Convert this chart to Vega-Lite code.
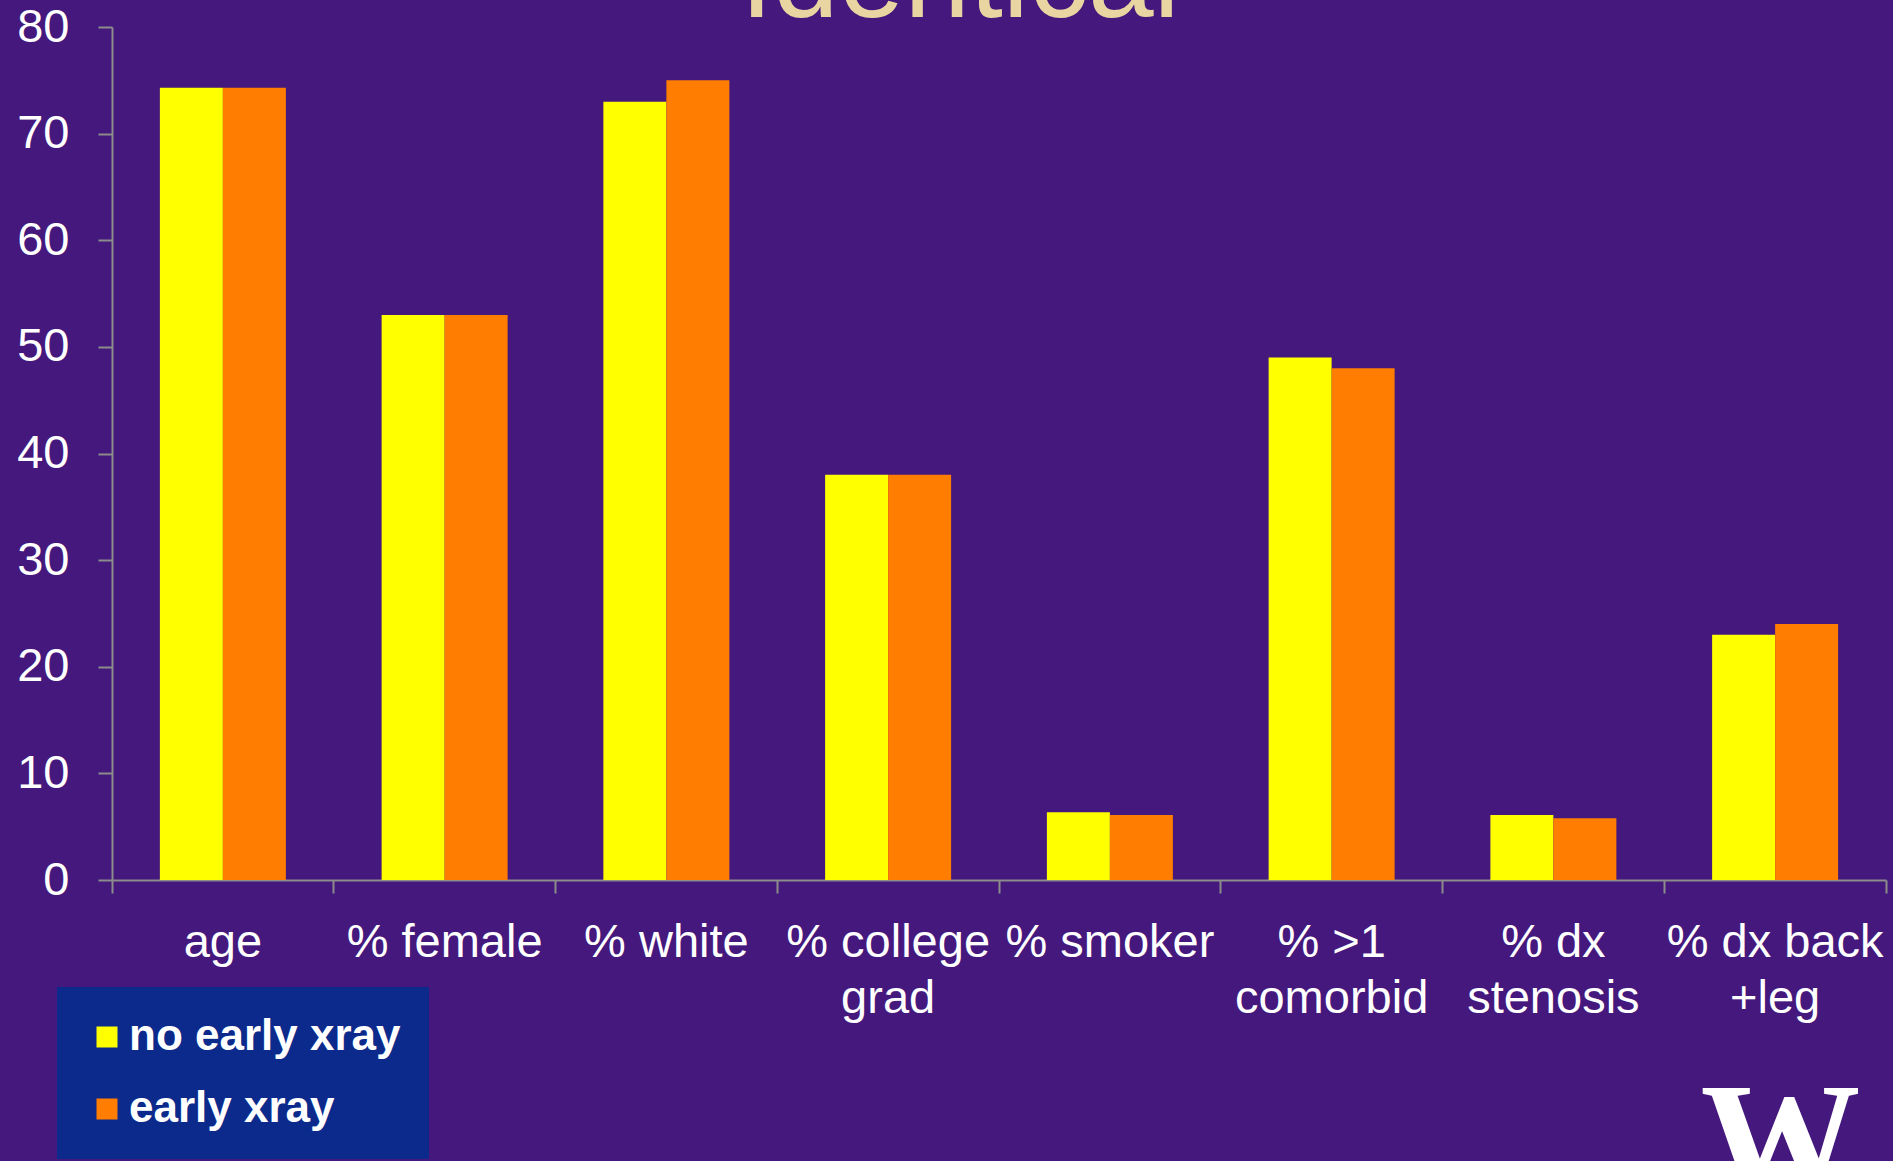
{
  "$schema": "https://vega.github.io/schema/vega-lite/v6.json",
  "autosize": "none",
  "width": 1774,
  "height": 853,
  "padding": {"left": 112, "top": 27, "right": 7, "bottom": 281},
  "background": "#44187d",
  "title": {
    "text": "Identical",
    "anchor": "middle",
    "frame": "group",
    "font": "Liberation Sans",
    "fontSize": 118,
    "fontWeight": "normal",
    "color": "#e9d5a2",
    "baseline": "alphabetic",
    "offset": -132,
    "dx": -39
  },
  "data": {
    "values": [
      {"metric": "age", "group": "no early xray", "value": 74.3},
      {"metric": "age", "group": "early xray", "value": 74.3},
      {"metric": "% female", "group": "no early xray", "value": 53.0},
      {"metric": "% female", "group": "early xray", "value": 53.0},
      {"metric": "% white", "group": "no early xray", "value": 73.0},
      {"metric": "% white", "group": "early xray", "value": 75.0},
      {"metric": "% college grad", "group": "no early xray", "value": 38.0},
      {"metric": "% college grad", "group": "early xray", "value": 38.0},
      {"metric": "% smoker", "group": "no early xray", "value": 6.35},
      {"metric": "% smoker", "group": "early xray", "value": 6.1},
      {"metric": "% >1 comorbid", "group": "no early xray", "value": 49.0},
      {"metric": "% >1 comorbid", "group": "early xray", "value": 48.0},
      {"metric": "% dx stenosis", "group": "no early xray", "value": 6.1},
      {"metric": "% dx stenosis", "group": "early xray", "value": 5.8},
      {"metric": "% dx back +leg", "group": "no early xray", "value": 23.0},
      {"metric": "% dx back +leg", "group": "early xray", "value": 24.0}
    ]
  },
  "mark": {"type": "bar"},
  "encoding": {
    "x": {
      "field": "metric",
      "type": "nominal",
      "sort": null,
      "scale": {"paddingInner": 0, "paddingOuter": 0},
      "axis": {
        "title": "W",
        "titleFont": "Liberation Serif",
        "titleFontWeight": "bold",
        "titleFontSize": 160,
        "titleColor": "#ffffff",
        "titleAlign": "center",
        "titleBaseline": "alphabetic",
        "titleX": 1668,
        "titleY": 313,
        "titleAngle": 0,
        "bandPosition": 1,
        "tickExtra": true,
        "labelAngle": 0,
        "labelFont": "Liberation Sans",
        "labelFontSize": 47,
        "labelColor": "#ffffff",
        "labelLineHeight": 56,
        "labelBaseline": "alphabetic",
        "labelPadding": 63,
        "labelAlign": "center",
        "labelLimit": 400,
        "labelExpr": "datum.value == '% college grad' ? ['% college', 'grad'] : datum.value == '% >1 comorbid' ? ['% >1', 'comorbid'] : datum.value == '% dx stenosis' ? ['% dx', 'stenosis'] : datum.value == '% dx back +leg' ? ['% dx back', '+leg'] : datum.value",
        "tickSize": 13,
        "tickColor": "#8c8c8c",
        "tickWidth": 2,
        "domainColor": "#8c8c8c",
        "domainWidth": 2,
        "grid": false
      }
    },
    "xOffset": {
      "field": "group",
      "type": "nominal",
      "sort": ["no early xray", "early xray"],
      "scale": {"paddingInner": 0, "paddingOuter": 0.76}
    },
    "y": {
      "field": "value",
      "type": "quantitative",
      "scale": {"domain": [0, 80], "nice": false},
      "axis": {
        "title": null,
        "values": [0, 10, 20, 30, 40, 50, 60, 70, 80],
        "labelFont": "Liberation Sans",
        "labelFontSize": 47,
        "labelColor": "#ffffff",
        "labelPadding": 29,
        "tickSize": 14,
        "tickColor": "#8c8c8c",
        "tickWidth": 2,
        "domainColor": "#8c8c8c",
        "domainWidth": 2,
        "grid": false
      }
    },
    "color": {
      "field": "group",
      "type": "nominal",
      "sort": ["no early xray", "early xray"],
      "scale": {"domain": ["no early xray", "early xray"], "range": ["#ffff00", "#ff7d00"]},
      "legend": {
        "title": null,
        "orient": "none",
        "legendX": -55,
        "legendY": 960,
        "fillColor": "#0b2a8c",
        "strokeColor": null,
        "padding": 28,
        "symbolType": "square",
        "symbolSize": 441,
        "symbolStrokeWidth": 0,
        "symbolOpacity": 1,
        "labelFont": "Liberation Sans",
        "labelFontSize": 44,
        "labelFontWeight": "bold",
        "labelColor": "#ffffff",
        "labelOffset": 0,
        "rowPadding": 28,
        "labelLimit": 400
      }
    }
  },
  "config": {
    "view": {"stroke": null}
  }
}
